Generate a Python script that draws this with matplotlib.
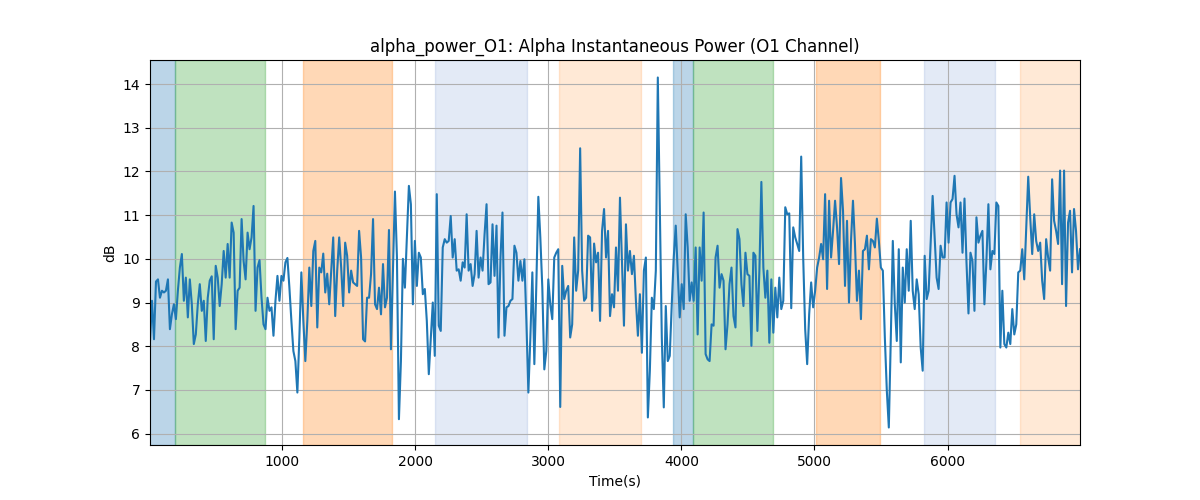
import numpy as np
import matplotlib
matplotlib.use("Agg")
import matplotlib.pyplot as plt

# alpha power in dB (left to right)
alpha_db = [
    8.12, 9.04, 8.16, 9.48, 9.53, 9.11, 9.27, 9.23, 9.27, 9.53, 8.39, 8.73, 8.96, 8.62, 9.27, 9.80,
    10.11, 9.04, 9.57, 8.66, 9.53, 8.96, 8.05, 8.27, 8.96, 9.42, 8.81, 9.04, 8.12, 9.11, 9.50, 9.60,
    8.16, 9.84, 9.57, 8.92, 9.42, 10.18, 9.57, 10.34, 9.57, 10.83, 10.60, 8.39, 9.27, 9.34, 10.91, 9.95,
    9.53, 10.60, 10.22, 10.49, 11.21, 8.81, 9.80, 9.97, 9.11, 8.50, 8.39, 9.11, 8.81, 8.89, 8.24, 9.04,
    9.61, 9.04, 9.61, 9.50,
    9.92, 10.02, 9.34, 8.58, 7.89, 7.66, 6.94, 8.20, 9.69, 8.58, 7.66, 8.58, 9.80, 8.92, 10.18, 10.41,
    8.43, 9.80, 9.69, 10.12, 9.23, 9.66, 8.96, 9.73, 10.49, 8.69, 9.73, 10.49, 9.80, 8.92, 10.37, 10.07,
    9.23, 9.73, 9.46, 9.42, 9.38, 10.64, 10.03, 8.16, 8.11, 9.11, 9.11, 9.65, 10.91, 8.96, 8.85, 9.34,
    8.73, 9.88, 8.89, 9.11, 10.66, 7.93, 9.73, 11.54, 10.03, 6.33, 7.66, 10.00, 9.34, 10.49, 11.67, 11.25,
    8.96, 10.41,
    9.38, 10.14, 10.03, 9.19, 9.31, 8.58, 7.36, 8.20, 9.00, 7.78, 11.48, 8.47, 8.35, 10.26, 10.45, 10.37,
    10.41, 10.98, 10.03, 10.45, 9.73, 9.76, 9.50, 9.92, 9.80, 11.02, 9.73, 9.88, 9.38, 9.65, 10.64, 9.57,
    10.03, 9.73, 10.56, 11.25, 9.42, 9.46, 10.79, 9.61, 10.76, 8.20, 10.03, 11.06, 8.24, 8.89, 8.92, 9.04,
    9.08, 10.30, 10.14, 9.50, 9.95, 9.50, 9.99, 8.58, 6.94, 8.20, 9.69, 7.59, 9.42, 11.42, 10.49, 9.34,
    7.47, 7.89, 9.53,
    8.96, 8.62, 10.03, 10.14, 10.22, 6.61, 9.84, 9.08, 9.27, 9.38, 8.20, 8.50, 10.49, 9.27, 9.73, 12.53,
    9.73, 9.04, 9.11, 10.53, 10.49, 8.81, 10.35, 9.92, 10.14, 8.58, 10.64, 11.14, 10.03, 10.64, 8.69, 9.19,
    8.89, 10.26, 9.27, 11.40, 9.95, 8.47, 10.79, 9.73, 10.18, 9.65, 10.07, 9.04, 8.24, 9.19, 7.85, 9.73,
    10.03, 6.37, 7.44, 9.11, 8.85, 9.73, 14.15, 11.10, 8.20, 6.60, 8.92, 7.66, 7.78, 8.96, 10.03, 10.76,
    9.73, 8.66, 9.42,
    8.85, 11.02, 10.26, 9.04, 9.46, 9.04, 10.26, 8.27, 10.26, 9.50, 11.06, 7.82, 7.70, 7.66, 8.50, 8.47,
    10.03, 10.30, 9.34, 9.65, 9.50, 7.93, 8.50, 9.42, 9.80, 8.69, 8.43, 10.68, 10.45, 9.42, 8.92, 10.14,
    9.65, 9.61, 8.01, 10.14, 10.07, 8.35, 9.73, 11.76, 9.80, 9.11, 9.73, 8.08, 9.53, 8.31, 9.34, 8.66,
    9.57, 8.85, 9.04, 11.18, 11.02, 11.04, 8.87, 10.72, 10.49, 10.34, 10.18, 12.34, 10.03, 8.39, 7.59, 8.73,
    9.46, 8.89,
    9.27, 9.80, 10.03, 10.34, 9.99, 11.48, 9.31, 11.33, 10.03, 10.64, 11.33, 10.72, 9.88, 11.85, 11.10, 9.38,
    10.87, 9.00, 10.41, 11.33, 10.34, 9.04, 9.73, 8.62, 10.18, 10.22, 10.53, 9.76, 10.45, 10.41, 10.26, 10.92,
    10.41, 9.80, 9.73, 8.20, 6.98, 6.14, 8.20, 10.41, 8.96, 8.12, 10.22, 7.63, 9.80, 9.00, 10.22, 9.27,
    10.87, 9.27, 8.85, 9.53, 9.19, 7.97, 7.44, 10.07, 9.08, 9.27, 10.34, 11.44, 10.49, 9.57, 9.31, 10.30,
    10.03, 10.03, 11.29, 10.37,
    11.29, 11.37, 11.90, 11.02, 10.72, 11.29, 10.14, 11.38, 9.92, 8.75, 10.14, 9.95, 8.81, 10.95, 10.37, 10.53,
    10.64, 8.96, 9.95, 11.25, 9.76, 10.18, 10.11, 11.29, 11.21, 7.97, 9.27, 8.05, 7.97, 8.31, 8.05, 8.85,
    8.27, 8.50, 9.69, 9.73, 10.22, 9.53, 10.68, 11.88, 10.95, 10.11, 11.02, 10.41, 10.18, 10.37, 9.50, 9.08,
    10.45, 10.03, 9.73, 11.82, 10.87, 10.64, 10.34, 12.02, 9.42, 12.02, 8.92, 10.83, 11.10, 9.69, 11.14, 10.64,
    9.76, 10.22,
]

t_start = 8
t_end = 6995

# shaded segments: start, end (s), colour, alpha
span_starts = [0, 195, 1158, 2150, 3083, 3940, 4090, 5008, 5820, 6541]
span_ends = [195, 872, 1827, 2842, 3700, 4090, 4692, 5496, 6360, 7100]
span_colors = ['C0', 'C2', 'C1', '#4472c4', 'C1', 'C0', 'C2', 'C1', '#4472c4', 'C1']
span_alphas = [0.3, 0.3, 0.3, 0.15, 0.17, 0.3, 0.3, 0.3, 0.15, 0.17]

step = (t_end - t_start) / (len(alpha_db) - 1)
t = t_start + step * np.arange(len(alpha_db))

fig, ax = plt.subplots(figsize=(12, 5), dpi=100)

for s, e, c, a in zip(span_starts, span_ends, span_colors, span_alphas):
    ax.axvspan(s, e, color=c, alpha=a)

ax.plot(t, alpha_db, color='C0')
ax.set_xlim(t[0], t[-1])
ax.set_title("alpha_power_O1: Alpha Instantaneous Power (O1 Channel)")
ax.set_xlabel("Time(s)")
ax.set_ylabel("dB")
ax.grid(True)

fig.savefig("out.png")
